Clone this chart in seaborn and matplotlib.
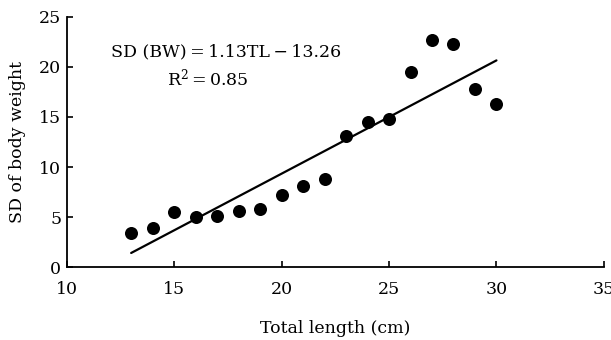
import numpy as np
import pandas as pd
import matplotlib
matplotlib.use("Agg")
import matplotlib.pyplot as plt
import seaborn as sns

total_length = [13, 14, 15, 16, 17, 18, 19, 20, 21, 22, 23, 24, 25, 26, 27, 28, 29, 30]
sd_bw = [3.4, 3.9, 5.5, 5.05, 5.1, 5.65, 5.85, 7.25, 8.15, 8.85, 13.05, 14.5, 14.75, 19.5, 22.7, 22.3, 17.75, 16.3]
slope = 1.13
intercept = -13.26
r2 = 0.85
x_ticks = [10, 15, 20, 25, 30, 35]
y_ticks = [0, 5, 10, 15, 20, 25]

sns.set_style("ticks")
plt.rcParams['font.family'] = ['DejaVu Serif']
plt.rcParams['mathtext.fontset'] = 'dejavuserif'
plt.rcParams['text.color'] = 'black'
plt.rcParams['axes.labelcolor'] = 'black'
plt.rcParams['xtick.color'] = 'black'
plt.rcParams['ytick.color'] = 'black'

df = pd.DataFrame({"TL": total_length, "SD": sd_bw})
fit = pd.DataFrame({"TL": [min(total_length), max(total_length)]})
fit["SD"] = slope * fit["TL"] + intercept

fig = plt.figure(figsize=(6.11, 3.4), dpi=100)
ax = fig.add_axes([66.7/611, 1 - 267.3/340, (603.9 - 66.7)/611, (267.3 - 16.7)/340])

sns.lineplot(data=fit, x="TL", y="SD", ax=ax, color="black", linewidth=1.6)
sns.scatterplot(data=df, x="TL", y="SD", ax=ax, color="black", s=88, edgecolor="black", linewidth=0, zorder=3)

ax.set_xlim(10, 35)
ax.set_ylim(0, 25)
ax.set_xticks(x_ticks)
ax.set_yticks(y_ticks)
ax.tick_params(direction="in", length=4, width=1.2, labelsize=12.5, colors="black", labelcolor="black")
ax.xaxis.set_tick_params(pad=10)
ax.yaxis.set_tick_params(pad=4)
for sp in ["left", "bottom"]:
    ax.spines[sp].set_linewidth(1.3)
    ax.spines[sp].set_color("black")
sns.despine(ax=ax)

ax.set_xlabel("Total length (cm)", fontsize=12.5, labelpad=16, color="black")
ax.set_ylabel("SD of body weight", fontsize=12.5, labelpad=9, color="black")

ax.text(0.082, 0.86, f"SD (BW)\u2009=\u2009{slope:.2f}TL\u2009\u2212\u2009{abs(intercept):.2f}", transform=ax.transAxes,
        ha="left", va="center", fontsize=12.5, color="black")
ax.text(0.186, 0.755, f"R$^2$\u2009=\u2009{r2:.2f}", transform=ax.transAxes,
        ha="left", va="center", fontsize=12.5, color="black")

fig.savefig("out.png", dpi=100)
